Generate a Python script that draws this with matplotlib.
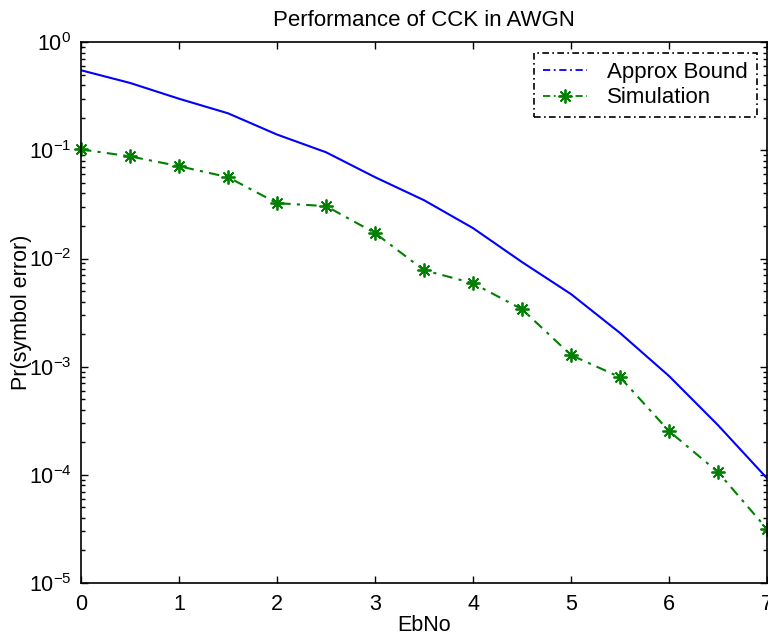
import matplotlib
matplotlib.use("Agg")
import matplotlib.pyplot as plt
from matplotlib.lines import Line2D
from matplotlib.ticker import LogLocator, NullFormatter

plt.rcParams['font.family'] = ['Liberation Sans', 'DejaVu Sans']
plt.rcParams['mathtext.fontset'] = 'custom'
plt.rcParams['mathtext.rm'] = 'Liberation Sans'
plt.rcParams['mathtext.it'] = 'Liberation Sans'
plt.rcParams['mathtext.default'] = 'regular'

ebno = [0, 0.5, 1, 1.5, 2, 2.5, 3, 3.5, 4, 4.5, 5, 5.5, 6, 6.5, 7]
bound = [0.55, 0.42, 0.30, 0.22, 0.14, 0.096, 0.0565, 0.0346, 0.0191, 0.00927,
         0.00469, 0.00205, 0.00082, 0.000288, 0.000093]
sim = [0.102, 0.088, 0.0714, 0.0565, 0.0325, 0.0305, 0.0172, 0.0078, 0.0059,
       0.0034, 0.00128, 0.0008, 0.000254, 0.000106, 0.0000316]

FS = 15.5
dashdot = (0, (5, 3, 1.5, 3))
star = (8, 2, 0)

fig = plt.figure(figsize=(7.68, 6.39), dpi=100)
ax = fig.add_axes([0.1055, 0.0876, 0.8932, 0.8464])

ax.plot(ebno, bound, color='#0000ff', lw=1.5)
ax.plot(ebno, sim, color='#008000', lw=1.5, ls=dashdot,
        marker=star, markersize=10, markeredgewidth=1.3, clip_on=False)

ax.set_yscale('log')
ax.set_xlim(0, 7)
ax.set_ylim(1e-5, 1)
ax.set_xticks(range(8))
ax.yaxis.set_major_locator(LogLocator(base=10, numticks=10))
ax.yaxis.set_minor_locator(LogLocator(base=10, subs=range(2, 10), numticks=20))
ax.yaxis.set_minor_formatter(NullFormatter())
ax.tick_params(which='both', direction='in', top=True, right=True, labelsize=FS)
ax.tick_params(axis='x', pad=8)
ax.tick_params(axis='y', pad=7)
ax.tick_params(which='major', length=5, width=1)
ax.tick_params(which='minor', length=3, width=1)
for s in ax.spines.values():
    s.set_linewidth(1.2)

ax.set_title('Performance of CCK in AWGN', fontsize=16, pad=12)
ax.set_xlabel('EbNo', fontsize=FS, labelpad=0)
ax.set_ylabel('Pr(symbol error)', fontsize=FS)
ax.yaxis.set_label_coords(-0.072, 0.5)

handles = [Line2D([], [], color='#0000ff', lw=1.3, ls=(0, (4, 2, 1, 2))),
           Line2D([], [], color='#008000', lw=1.3, ls=(0, (4, 2, 1, 2)),
                  marker=star, markersize=10, markeredgewidth=1.3)]
leg = ax.legend(handles, ['Approx Bound', 'Simulation'], loc='upper right',
                fontsize=16, fancybox=False, framealpha=1, edgecolor='black',
                borderaxespad=0, borderpad=0.4, handlelength=2.0,
                handletextpad=0.9, labelspacing=0.2,
                bbox_to_anchor=(0.9854, 0.9797))
leg.get_frame().set_linestyle((0, (4, 2, 1, 2)))
leg.get_frame().set_linewidth(1.2)

fig.savefig('out.png', dpi=100)
